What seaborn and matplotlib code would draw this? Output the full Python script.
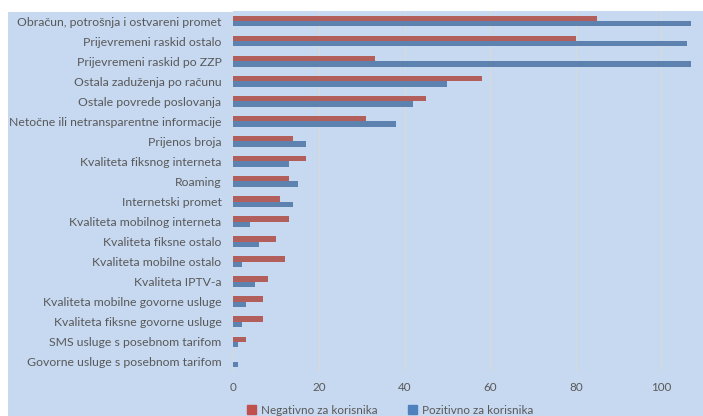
import pandas as pd
import numpy as np
import matplotlib
matplotlib.use("Agg")
import matplotlib.pyplot as plt
import seaborn as sns
from matplotlib.patches import Rectangle

# =======================
# Dados
# =======================
categorias = [
    "Obračun, potrošnja i ostvareni promet",
    "Prijevremeni raskid ostalo",
    "Prijevremeni raskid po ZZP",
    "Ostala zaduženja po računu",
    "Ostale povrede poslovanja",
    "Netočne ili netransparentne informacije",
    "Prijenos broja",
    "Kvaliteta fiksnog interneta",
    "Roaming",
    "Internetski promet",
    "Kvaliteta mobilnog interneta",
    "Kvaliteta fiksne ostalo",
    "Kvaliteta mobilne ostalo",
    "Kvaliteta IPTV-a",
    "Kvaliteta mobilne govorne usluge",
    "Kvaliteta fiksne govorne usluge",
    "SMS usluge s posebnom tarifom",
    "Govorne usluge s posebnom tarifom",
]
negativno = [85, 80, 33, 58, 45, 31, 14, 17, 13, 11, 13, 10, 12, 8, 7, 7, 3, 0]
pozitivno = [107, 106, 107, 50, 42, 38, 17, 13, 15, 14, 4, 6, 2, 5, 3, 2, 1, 1]
series = ["Negativno za korisnika", "Pozitivno za korisnika"]
xticks = [0, 20, 40, 60, 80, 100]

df = pd.DataFrame({
    "Categoria": categorias * 2,
    "Serie": [series[0]] * len(categorias) + [series[1]] * len(categorias),
    "Valor": negativno + pozitivno,
})

# =======================
# Visualização
# =======================
bg = "#C6D9F0"
txt = "#595959"
fs = 8.4
sns.set_style("white")
plt.rcParams["font.family"] = ["Lato", "DejaVu Sans"]

fig = plt.figure(figsize=(7.03, 4.16), dpi=100)
fig.patches.append(Rectangle((8 / 703, 0), 1, 1 - 12 / 416, transform=fig.transFigure,
                             facecolor=bg, edgecolor="none", zorder=-5))
ax = fig.add_axes([233.3 / 703, 1 - 372 / 416, 1 - 233.3 / 703, 361 / 416])
ax.set_facecolor(bg)

sns.barplot(data=df, x="Valor", y="Categoria", hue="Serie", orient="h",
            palette=["#C0504D", "#4F81BD"], width=0.54, ax=ax, legend=False,
            edgecolor="none")

ax.set_xlim(0, (703 - 233.3) / 4.28)
ax.set_xticks(xticks)
ax.grid(axis="x", color="#D9D9D9", linewidth=0.8)
ax.set_axisbelow(True)
for s in ax.spines.values():
    s.set_visible(False)
ax.set_xlabel("")
ax.set_ylabel("")
ax.tick_params(axis="y", length=0, pad=8.5, labelsize=8.8, labelcolor=txt)
ax.tick_params(axis="x", length=0, pad=7.5, labelsize=fs, labelcolor=txt)

handles = [Rectangle((0, 0), 1, 1, color=c) for c in ["#C0504D", "#4F81BD"]]
fig.legend(handles, series, loc="center", bbox_to_anchor=(390 / 703, 1 - 410 / 416),
           ncol=2, frameon=False, fontsize=fs, labelcolor=txt, handlelength=0.75,
           handleheight=0.75, handletextpad=0.45, columnspacing=2.6)

fig.savefig("out.png", dpi=100, facecolor="white")
